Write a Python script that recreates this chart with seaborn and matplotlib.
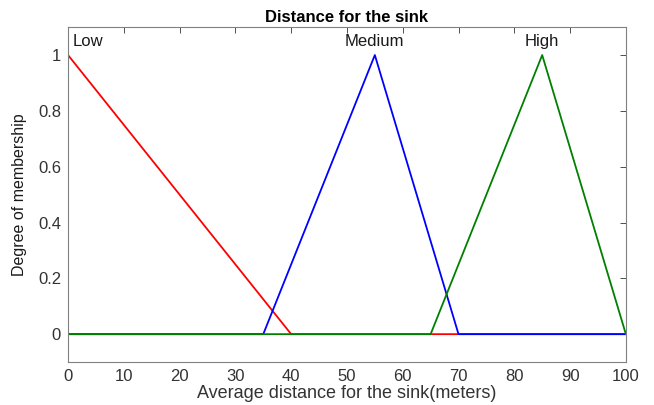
import pandas as pd
import matplotlib
matplotlib.use('Agg')
import matplotlib.pyplot as plt
import seaborn as sns

# membership functions (trimf breakpoints), drawn over the full 0-100 range
low_x = [0, 40, 100]
low_y = [1, 0, 0]
medium_x = [0, 35, 55, 70, 100]
medium_y = [0, 0, 1, 0, 0]
high_x = [0, 65, 85, 100]
high_y = [0, 0, 1, 0]

names = ['Low', 'Medium', 'High']
peaks = [0, 55, 85]
colors = {'Low': 'red', 'Medium': 'blue', 'High': 'green'}

df = pd.concat([
    pd.DataFrame({'x': low_x, 'y': low_y, 'mf': 'Low'}),
    pd.DataFrame({'x': medium_x, 'y': medium_y, 'mf': 'Medium'}),
    pd.DataFrame({'x': high_x, 'y': high_y, 'mf': 'High'}),
])

sns.set_style('white')
plt.rcParams['font.family'] = ['Liberation Sans', 'DejaVu Sans']

fig = plt.figure(figsize=(6.54, 4.05), dpi=100)
ax = fig.add_axes([0.104, 0.106, 0.853, 0.827])

sns.lineplot(data=df, x='x', y='y', hue='mf', palette=colors, sort=False,
             estimator=None, linewidth=1.3, legend=False, ax=ax)

for name, p in zip(names, peaks):
    ha = 'left' if p == 0 else 'center'
    ax.text(p + (0.8 if p == 0 else 0), 1.02, name, ha=ha, va='bottom', fontsize=12, color='#1a1a1a')

ax.set_xlim(0, 100)
ax.set_ylim(-0.1, 1.1)
ax.set_xticks(range(0, 101, 10))
ax.set_yticks([0, 0.2, 0.4, 0.6, 0.8, 1])
ax.set_yticklabels(['0', '0.2', '0.4', '0.6', '0.8', '1'])
ax.tick_params(direction='in', length=4, top=True, right=True, labeltop=False,
               labelright=False, labelsize=12, colors='#333333', width=0.6, pad=5)
for s in ax.spines.values():
    s.set_color('#808080')
    s.set_linewidth(0.8)

ax.set_title('Distance for the sink', fontsize=12, fontweight='bold', color='black', pad=4)
ax.set_xlabel('Average distance for the sink(meters)', fontsize=13, color='#333333', labelpad=1)
ax.set_ylabel('Degree of membership', fontsize=11.5, color='#1a1a1a', labelpad=8)

fig.savefig('out.png', dpi=100)
